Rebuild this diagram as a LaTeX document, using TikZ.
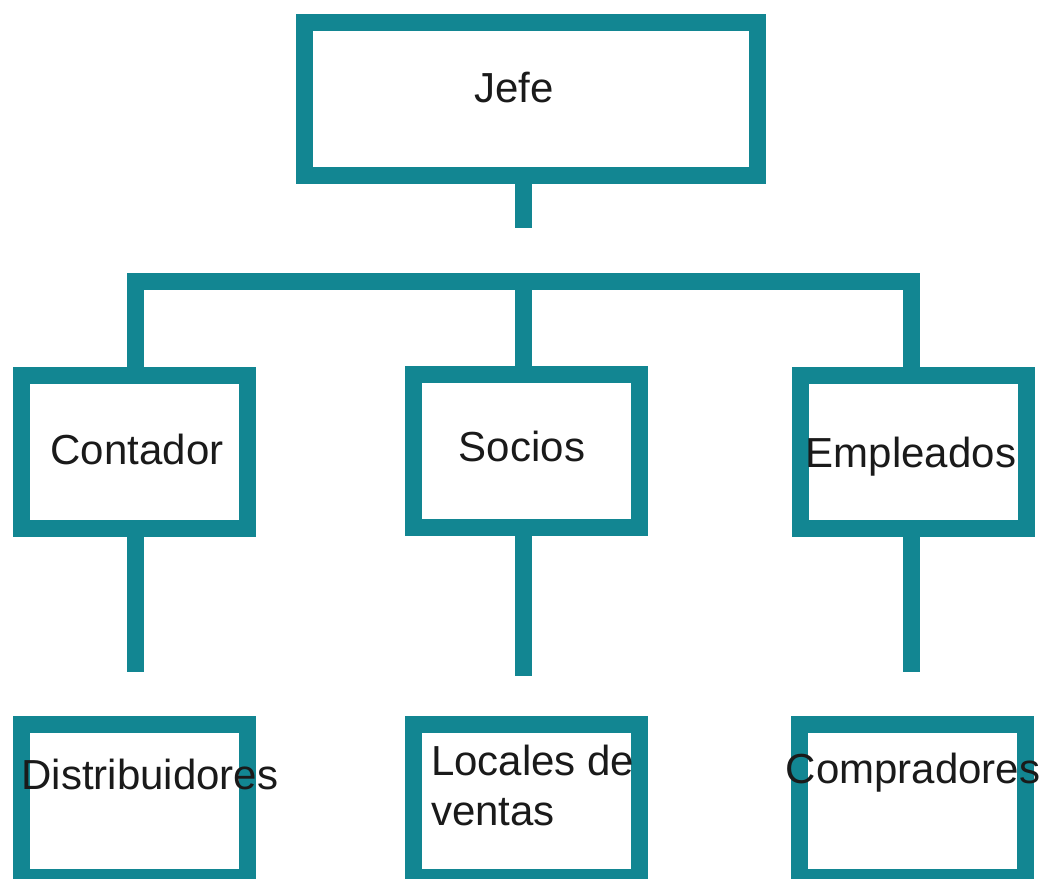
\documentclass[tikz,border=0pt]{standalone}
\usepackage{fontspec}
\setmainfont{Liberation Sans}
\definecolor{boxteal}{RGB}{18,134,146}
\definecolor{txt}{RGB}{26,26,26}
\begin{document}
\begin{tikzpicture}[x=1bp,y=-1bp,
  box/.style={draw=boxteal, line width=17bp, fill=white, inner sep=0pt,
              minimum width=226bp, minimum height=153bp},
  conn/.style={draw=boxteal, line width=17bp, line join=miter},
  lbl/.style={font=\fontsize{42bp}{50bp}\selectfont, text=txt, inner sep=0pt, anchor=base}]
\useasboundingbox[fill=white] (0,0) rectangle (1048,879);
% boxes
\node[box, minimum width=453bp, minimum height=152bp] (jefe) at (531,99) {};
\node[box] (cont) at (134.5,452) {};
\node[box] (soc) at (526.5,451) {};
\node[box] (emp) at (913.5,451.5) {};
\node[box] (dist) at (134.5,801) {};
\node[box] (loc) at (526.5,801) {};
\node[box] (comp) at (912,801) {};
% connector coordinates
\coordinate (j1) at (523,228);
\coordinate (barL) at (135,281);
\coordinate (barM) at (523,281);
\coordinate (barR) at (911,281);
\coordinate (c1) at (135,672);
\coordinate (s1) at (523,676);
\coordinate (e1) at (911,672);
% connectors
\draw[conn] (jefe.south -| j1) -- (j1);
\draw[conn] (cont.north -| barL) -- (barL) -- (barR) -- (emp.north -| barR);
\draw[conn] (barM) -- (soc.north -| barM);
\draw[conn] (cont.south -| c1) -- (c1);
\draw[conn] (soc.south -| s1) -- (s1);
\draw[conn] (emp.south -| e1) -- (e1);
% labels
\node[lbl] (tjefe) at (514,102) {Jefe};
\node[lbl] (tcont) at (137,464) {Contador};
\node[lbl] (tsoc) at (522,461) {Socios};
\node[lbl] (temp) at (911,467) {Empleados};
\node[lbl] (tdist) at (150,789) {Distribuidores};
\node[lbl, anchor=north west, align=left] (tloc) at (431,745) {Locales de\\ventas};
\node[lbl] (tcomp) at (913,783) {Compradores};
\end{tikzpicture}
\end{document}
